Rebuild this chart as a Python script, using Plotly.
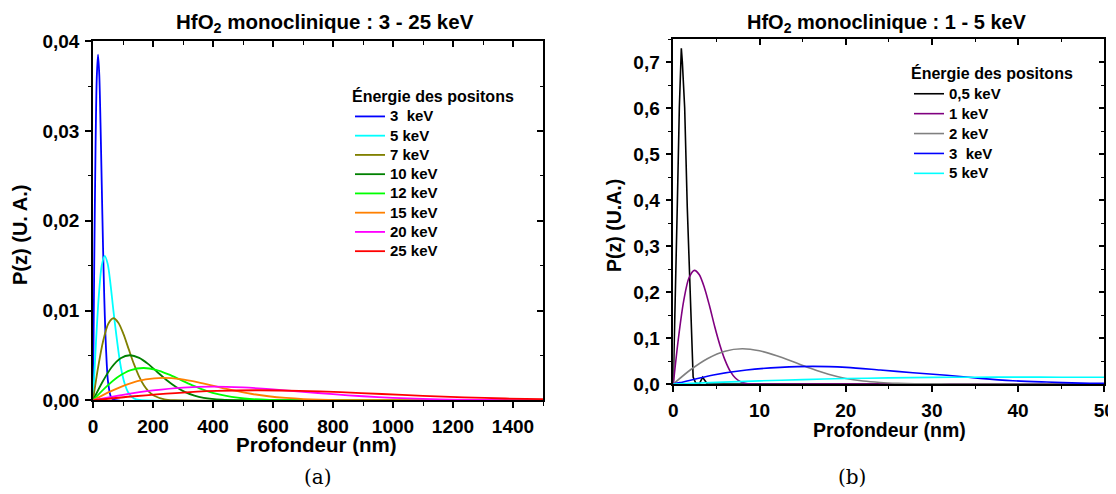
import plotly.graph_objects as go

# ---------------- Panel (a): HfO2 monoclinique 3 - 25 keV ----------------
labels_a = ["3\u00a0 keV", "5 keV", "7 keV", "10 keV", "12 keV", "15 keV", "20 keV", "25 keV"]
colors_a = ["#0000FF", "#00FFFF", "#808000", "#008000", "#00FF00", "#FF8000", "#FF00FF", "#FF0000"]

depth_3keV = [0, 4.2, 8.4, 12.5, 16.7, 20.9, 25, 29.2, 33.4, 37.6, 41.8, 45.9, 50, 58.5, 67, 1500]
pz_3keV = [0, 0.0154, 0.028, 0.0359, 0.0385, 0.0363, 0.0309, 0.024, 0.0172, 0.0114, 0.007, 0.004, 0.0021, 0.0005, 0.0001, 0]

depth_5keV = [0, 9.8, 19.5, 29, 39, 49, 58.5, 68, 78, 88, 97.5, 107, 117, 136.5, 156, 1500]
pz_5keV = [0, 0.0064, 0.0117, 0.015, 0.0161, 0.0152, 0.0129, 0.01, 0.0072, 0.0047, 0.0029, 0.0017, 0.0009, 0.0002, 0.00004, 0]

depth_7keV = [0, 17, 34, 51, 68, 85, 102, 119, 136, 153, 170, 187, 204, 238, 272, 1500]
pz_7keV = [0, 0.00366, 0.00664, 0.00853, 0.00914, 0.00862, 0.00734, 0.0057, 0.00408, 0.0027, 0.00165, 0.00094, 0.0005, 0.000115, 0.00002, 0]

depth_10keV = [0, 31, 61.5, 92, 123, 154, 184.5, 215, 246, 277, 307.5, 338, 369, 430, 492, 1500]
pz_10keV = [0, 0.00201, 0.00365, 0.00468, 0.00502, 0.00473, 0.00403, 0.00313, 0.00224, 0.00148, 0.00091, 0.00052, 0.00028, 0.000063, 0.000011, 0]

depth_12keV = [0, 42, 84, 126, 168, 210, 252, 294, 336, 378, 420, 462, 504, 588, 672, 1500]
pz_12keV = [0, 0.00144, 0.00262, 0.00336, 0.0036, 0.0034, 0.00289, 0.00225, 0.00161, 0.00106, 0.00065, 0.00037, 0.0002, 0.000045, 0.000008, 0]

depth_15keV = [0, 58.5, 117, 175.5, 234, 292.5, 351, 409.5, 468, 526.5, 585, 643.5, 702, 819, 936, 1500]
pz_15keV = [0, 0.001, 0.00181, 0.00232, 0.00249, 0.00235, 0.002, 0.00155, 0.00111, 0.00073, 0.00045, 0.00026, 0.00014, 0.00003, 0.000005, 0]

depth_20keV = [0, 100, 200, 300, 400, 500, 600, 700, 800, 900, 1000, 1100, 1200, 1400, 1500]
pz_20keV = [0, 0.00061, 0.0011, 0.00142, 0.00152, 0.00143, 0.00122, 0.00095, 0.00068, 0.00045, 0.00028, 0.00016, 0.00008, 0.00002, 0.00001]

depth_25keV = [0, 137.5, 275, 412.5, 550, 687.5, 825, 962.5, 1100, 1237.5, 1375, 1500]
pz_25keV = [0, 0.00045, 0.00081, 0.00104, 0.00112, 0.00106, 0.0009, 0.0007, 0.0005, 0.00033, 0.0002, 0.00012]

depths_a = [depth_3keV, depth_5keV, depth_7keV, depth_10keV, depth_12keV, depth_15keV, depth_20keV, depth_25keV]
values_a = [pz_3keV, pz_5keV, pz_7keV, pz_10keV, pz_12keV, pz_15keV, pz_20keV, pz_25keV]

# ---------------- Panel (b): HfO2 monoclinique 1 - 5 keV ----------------
labels_b = ["0,5 keV", "1 keV", "2 keV", "3\u00a0 keV", "5 keV"]
colors_b = ["#000000", "#800080", "#808080", "#0000FF", "#00FFFF"]

depth_b05 = [0, 0.23, 0.46, 0.70, 0.85, 0.93, 1.05, 1.32, 1.62, 2.0, 2.3, 2.6, 3.0, 3.4, 3.95, 5, 50]
pz_b05 = [0, 0.168, 0.385, 0.60, 0.70, 0.73, 0.70, 0.60, 0.385, 0.168, 0.015, 0.002, 0.0, 0.0145, 0.0, 0, 0]

depth_b1 = [0, 0.6, 1.2, 1.8, 2.44, 3.0, 3.6, 4.2, 4.8, 5.4, 6.0, 6.6, 7.2, 7.8, 8.5, 10, 50]
pz_b1 = [0, 0.1, 0.18, 0.23, 0.247, 0.238, 0.21, 0.17, 0.125, 0.085, 0.052, 0.028, 0.013, 0.005, 0.001, 0, 0]

depth_b2 = [0, 2, 4, 6, 8, 10, 12, 14, 16, 18, 20, 22, 24, 26, 28, 32, 50]
pz_b2 = [0, 0.031, 0.0556, 0.0714, 0.0765, 0.0721, 0.0614, 0.0477, 0.0335, 0.021, 0.012, 0.0065, 0.0033, 0.0015, 0.0006, 0.0001, 0]

depth_b3 = [0, 0.78, 4.64, 8.5, 12.4, 16.2, 20.1, 24, 27.8, 31.7, 35.6, 39.4, 43.3, 47.2, 50]
pz_b3 = [0, 0.003, 0.0196, 0.0304, 0.0362, 0.0384, 0.0362, 0.0304, 0.0246, 0.019, 0.0123, 0.0072, 0.0043, 0.002, 0.0015]

depth_b5 = [0, 5, 10, 15, 20, 25, 30, 35, 40, 45, 50]
pz_b5 = [0, 0.0035, 0.0068, 0.0095, 0.0118, 0.0133, 0.0143, 0.0148, 0.0149, 0.0148, 0.0146]

depths_b = [depth_b05, depth_b1, depth_b2, depth_b3, depth_b5]
values_b = [pz_b05, pz_b1, pz_b2, pz_b3, pz_b5]
shapes_b = ["linear", "spline", "spline", "spline", "spline"]

# the page body has an 8 px margin: the figure starts at (8, 8) and runs to the window's edges
OFF = 8
W, H = 1116 - OFF, 494 - OFF
FONT = "Liberation Sans"


def px(x):
    return (x - OFF) / W


def py(y):
    return 1 - (y - OFF) / H


fig = go.Figure()

for lab, col, xs, ys in zip(labels_a, colors_a, depths_a, values_a):
    fig.add_trace(go.Scatter(
        x=xs, y=ys, mode="lines", xaxis="x", yaxis="y", legend="legend",
        name=f"<span style='font-size:15px'>{lab}</span>",
        line=dict(color=col, width=1.8, shape="spline", smoothing=0.8),
    ))

for lab, col, xs, ys, sh in zip(labels_b, colors_b, depths_b, values_b, shapes_b):
    fig.add_trace(go.Scatter(
        x=xs, y=ys, mode="lines", xaxis="x2", yaxis="y2", legend="legend2",
        name=f"<span style='font-size:15px'>{lab}</span>",
        line=dict(color=col, width=1.6, shape=sh, smoothing=0.8 if sh == "spline" else None),
    ))

# empty traces to create mirrored frame axes (top / right) with inward ticks
fig.add_trace(go.Scatter(x=[], y=[], xaxis="x3", yaxis="y3", showlegend=False, hoverinfo="skip"))
fig.add_trace(go.Scatter(x=[], y=[], xaxis="x4", yaxis="y4", showlegend=False, hoverinfo="skip"))

tickfont = dict(family=FONT, size=19, color="black", weight="bold")


def base_axis(rng, dtick, mdtick, domain, anchor, fmt=None):
    d = dict(
        range=rng, domain=domain, anchor=anchor, showgrid=False, zeroline=False,
        automargin=False, ticklabeloverflow="allow",
        showline=True, linecolor="black", linewidth=1.5,
        ticks="outside", ticklen=6, tickwidth=1.5, tickcolor="black",
        dtick=dtick, tick0=0, tickfont=tickfont, ticklabelstandoff=2,
        minor=dict(dtick=mdtick, ticks="outside", ticklen=3.5, tickwidth=1.2, tickcolor="black", showgrid=False),
    )
    if fmt:
        d["tickformat"] = fmt
    return d


def mirror_axis(rng, dtick, mdtick, domain, anchor, overlay, side):
    return dict(
        range=rng, domain=domain, anchor=anchor, overlaying=overlay, side=side,
        automargin=False,
        showgrid=False, zeroline=False, showline=True, linecolor="black", linewidth=1.5,
        ticks="inside", ticklen=6, tickwidth=1.5, tickcolor="black", showticklabels=False,
        dtick=dtick, tick0=0,
        minor=dict(dtick=mdtick, ticks="inside", ticklen=3.5, tickwidth=1.2, tickcolor="black", showgrid=False),
    )


xa_dom = [px(93), px(543)]
ya_dom = [py(400.3), py(41.3)]
xb_dom = [px(673.3), px(1104.3)]
yb_dom = [py(384), py(39)]

legend_title_font = dict(family=FONT, size=16, color="black", weight="bold")

fig.update_layout(
    width=W, height=H, margin=dict(l=0, r=0, t=0, b=0, autoexpand=False),
    paper_bgcolor="white", plot_bgcolor="white",
    separators=", ",
    font=dict(family=FONT, color="black"),
    xaxis=base_axis([0, 1500], 200, 100, xa_dom, "y"),
    yaxis=base_axis([0, 0.04], 0.01, 0.005, ya_dom, "x", ".2f"),
    xaxis2=base_axis([0, 50], 10, 5, xb_dom, "y2"),
    yaxis2=base_axis([0, 0.75], 0.1, 0.05, yb_dom, "x2", ".1f"),
    xaxis3=mirror_axis([0, 1500], 200, 100, xa_dom, "y", "x", "top"),
    yaxis3=mirror_axis([0, 0.04], 0.01, 0.005, ya_dom, "x", "y", "right"),
    xaxis4=mirror_axis([0, 50], 10, 5, xb_dom, "y2", "x2", "top"),
    yaxis4=mirror_axis([0, 0.75], 0.1, 0.05, yb_dom, "x2", "y2", "right"),
    legend=dict(
        bgcolor="rgba(0,0,0,0)", borderwidth=0, xanchor="left", yanchor="top",
        font=dict(family=FONT, size=12.5, color="black", weight="bold"),
        tracegroupgap=0, itemwidth=30, x=px(350), y=py(81),
        title=dict(text="Énergie des positons", font=legend_title_font),
    ),
    legend2=dict(
        bgcolor="rgba(0,0,0,0)", borderwidth=0, xanchor="left", yanchor="top",
        font=dict(family=FONT, size=13, color="black", weight="bold"),
        tracegroupgap=0, itemwidth=30, x=px(909), y=py(58),
        title=dict(text="Énergie des positons", font=legend_title_font),
    ),
)


def ann(text, x, y, size, angle=0, bold=True, family=FONT):
    fig.add_annotation(
        text=f"<b>{text}</b>" if bold else text, x=px(x), y=py(y), xref="paper", yref="paper",
        showarrow=False, textangle=angle, xanchor="center", yanchor="middle",
        font=dict(family=family, size=size, color="black"),
    )


ann("HfO<sub>2</sub> monoclinique : 3 - 25 keV", 325, 23, 20.5)
ann("HfO<sub>2</sub> monoclinique : 1 - 5 keV", 887, 23, 20)
ann("Profondeur (nm)", 316, 444, 20.5)
ann("Profondeur (nm)", 889, 430, 19.5)
ann("P(z) (U. A.)", 20, 235, 20, angle=-90)
ann("P(z) (U.A.)", 614, 226, 19.5, angle=-90)
ann("(a)", 318, 477, 20, bold=False, family="DejaVu Serif")
ann("(b)", 852, 477, 20, bold=False, family="DejaVu Serif")

fig.write_html("out.html")
